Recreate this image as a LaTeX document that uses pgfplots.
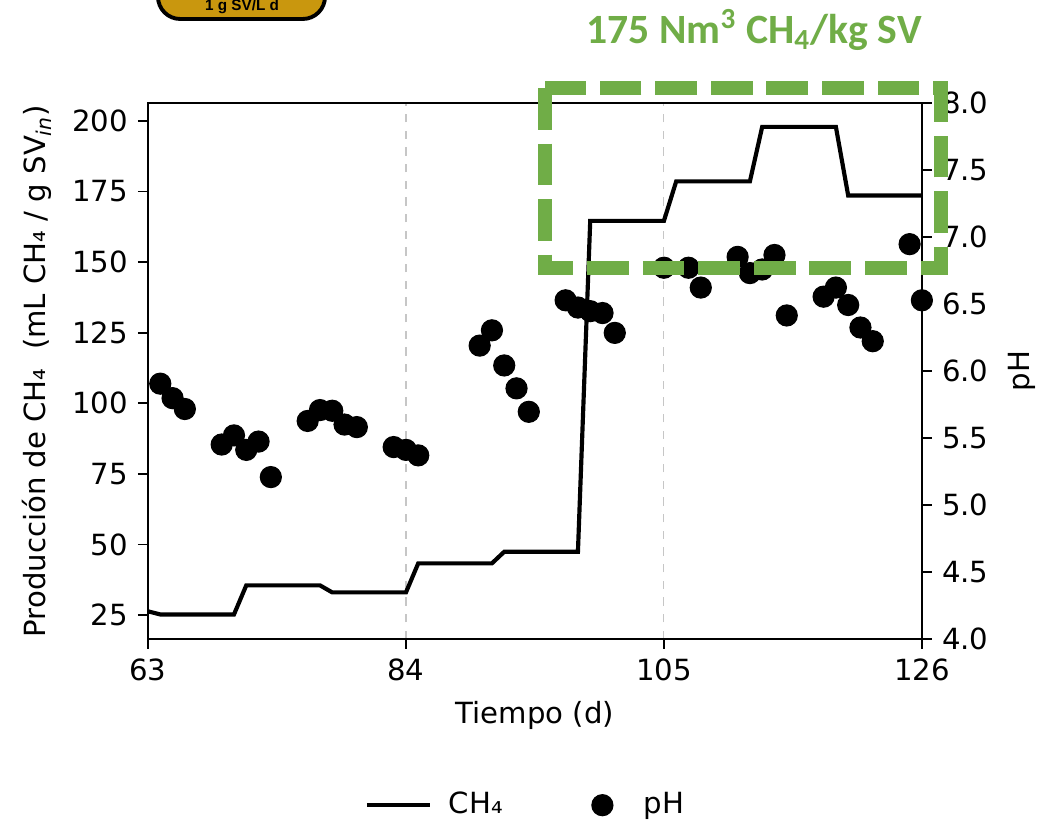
\documentclass[border=0pt]{standalone}
\usepackage{pgfplots}
\pgfplotsset{compat=1.18}
\usepackage{fontspec}
\setmainfont{DejaVu Sans}
\newfontfamily\titlefont{Carlito}
\newfontfamily\badgefont{Liberation Sans}
\definecolor{boxgreen}{RGB}{112,173,71}
\definecolor{badge}{RGB}{201,151,14}
\pgfplotsset{
  longline/.style={legend image code/.code={\draw[##1] (0cm,0cm) -- (0.8cm,0cm);}},
  base/.style={
    at={(53.28pt,69.84pt)}, anchor=south west,
    scale only axis, width=278.6pt, height=193pt,
    xmin=63, xmax=126,
    tick align=outside, major tick length=3.6pt,
    /pgf/number format/assume math mode=true,
    axis line style={line width=0.6pt},
    every tick/.style={black, line width=0.6pt},
  },
}

\begin{document}
\fontsize{10.5}{12.6}\selectfont
\begin{tikzpicture}
\useasboundingbox (0,0) rectangle (380.16pt,299.88pt);

% CH4, left axis
\begin{axis}[base,
  ymin=16.5, ymax=206.4,
  xtick={63,84,105,126}, ytick={25,50,...,200},
  xtick pos=bottom, ytick pos=left,
  xmajorgrids, grid style={dashed, gray!45, line width=0.4pt},
  xlabel={Tiempo (d)},
  ylabel={Producción de CH₄\ \ (mL CH₄ / g SV\textsubscript{\textit{in}})},
]
\addplot[black, line width=1.5pt] coordinates {
  (63,26.3) (64,25.2) (70,25.2) (71,35.5) (77,35.5) (78,33.0) (84,33.0)
  (85,43.3) (91,43.3) (92,47.4) (98,47.4) (99,164.6) (105,164.6)
  (106,178.6) (112,178.6) (113,197.9) (119,197.9) (120,173.6) (126,173.6)
};
\end{axis}

% pH, right axis
\begin{axis}[base,
  ymin=4, ymax=8,
  axis y line*=right, axis x line=none,
  ytick={4,4.5,...,8},
  yticklabel style={/pgf/number format/.cd, fixed, fixed zerofill, precision=1},
  ylabel={pH},
  legend columns=2,
  legend style={draw=none, fill=none, at={(0.49,-0.31)}, anchor=center,
    /tikz/every odd column/.append style={column sep=4pt},
    /tikz/every even column/.append style={column sep=30pt}},
]
\addlegendimage{black, line width=1.5pt, longline}
\addlegendentry{CH₄}
\addplot[only marks, mark=*, mark size=3.8pt, black] coordinates {
  (64,5.905) (65,5.797) (66,5.716) (69,5.451) (70,5.519) (71,5.411)
  (72,5.473) (73,5.208) (76,5.627) (77,5.708) (78,5.703) (79,5.600)
  (80,5.581) (83,5.432) (84,5.411) (85,5.370) (90,6.189) (91,6.303)
  (92,6.041) (93,5.870) (94,5.695) (97,6.527) (98,6.473) (99,6.446)
  (100,6.432) (101,6.284) (105,6.770) (107,6.770) (108,6.622) (111,6.851)
  (112,6.730) (113,6.757) (114,6.865) (115,6.414) (118,6.554) (119,6.622)
  (120,6.492) (121,6.324) (122,6.222) (125,6.946) (126,6.527)
};
\addlegendentry{\hspace{5pt}pH}
\end{axis}

\begin{scope}[x=0.36pt, y=-0.36pt, yshift=299.88pt]
\clip (0,0) rectangle (1056,833);
\draw[line width=1.4pt, fill=badge, rounded corners=8pt] (158,-40) rectangle (325,19);
\node[font=\badgefont\bfseries\fontsize{5.5}{6}\selectfont, anchor=base] at (242,11) {1 g SV/L d};
\node[font=\titlefont\bfseries\fontsize{15}{18}\selectfont, text=boxgreen] at (754,30)
  {175 Nm\textsuperscript{3} CH\textsubscript{4}/kg SV};
\draw[boxgreen, line width=4.7pt, dash pattern=on 15pt off 5pt] (545,88) rectangle (941,268);
\end{scope}
\end{tikzpicture}
\end{document}
